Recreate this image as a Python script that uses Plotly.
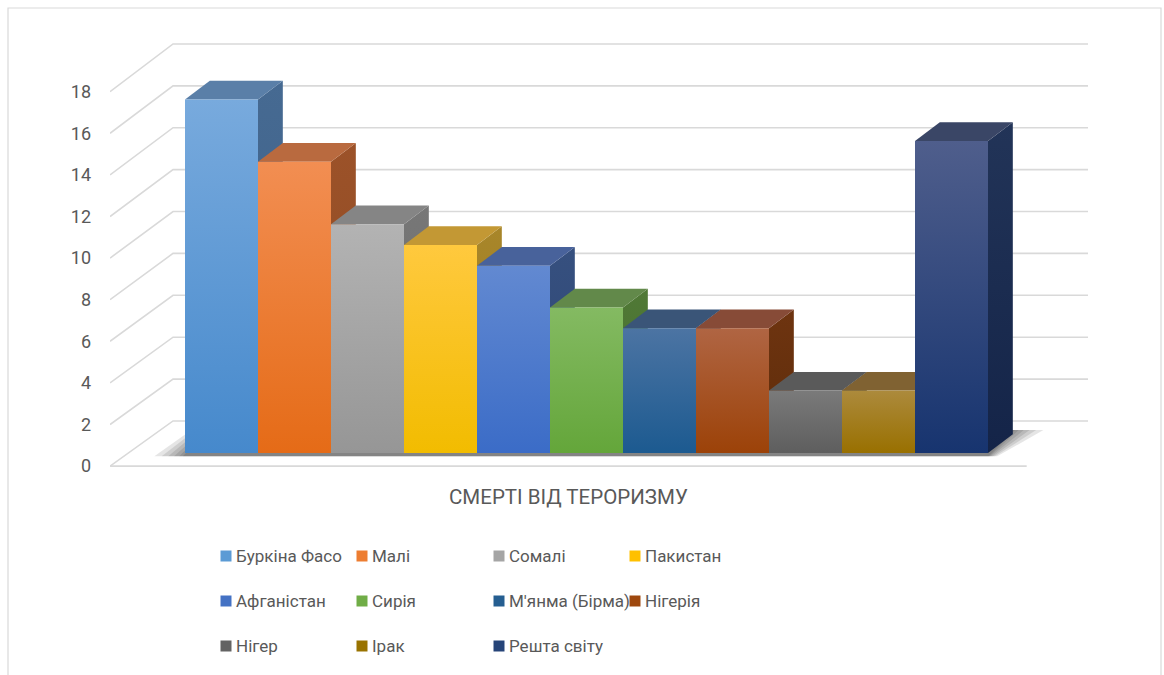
import plotly.graph_objects as go

# ---------------- data ----------------
countries = ["Буркіна Фасо", "Малі", "Сомалі", "Пакистан", "Афганістан", "Сирія",
             "М'янма (Бірма)", "Нігерія", "Нігер", "Ірак", "Решта світу"]
deaths = [17, 14, 11, 10, 9, 7, 6, 6, 3, 3, 15]
y_ticks = [0, 2, 4, 6, 8, 10, 12, 14, 16, 18]
category_label = "СМЕРТІ ВІД ТЕРОРИЗМУ"

# ---------------- styles ----------------
base_col = ["#5B9BD5", "#ED7D31", "#A5A5A5", "#FFC000", "#4472C4", "#70AD47",
            "#255E91", "#9E480E", "#636363", "#997300", "#264478"]
front_top = ["#78AADD", "#F28E52", "#B3B3B3", "#FFC93E", "#6289D1", "#84BA62",
             "#4C74A3", "#B06543", "#7A7A7A", "#AC8A3C", "#4F5E8C"]
front_bot = ["#4689CC", "#E56B17", "#969696", "#F2BC00", "#3B6CC7", "#64A63A",
             "#1C5A90", "#9C4208", "#5E5E5E", "#997000", "#17346F"]
top_col = ["#5A7FA8", "#B96A3F", "#858585", "#C39834", "#48629B", "#62894A",
           "#3A5578", "#874B37", "#5A5A5A", "#806232", "#3A4666"]
side_col = ["#466A92", "#9C5229", "#777777", "#A8862A", "#36507F", "#507936",
            "#294E74", "#6E3410", "#4A4A4A", "#6E5410", "#223458"]
side_col2 = ["#3C5E86", "#8C4A22", "#6A6A6A", "#9A7A20", "#2E4674", "#466C2E",
             "#1F4468", "#5E2C0A", "#404040", "#5E4808", "#142448"]
grid_col = "#D9D9D9"
text_col = "#595959"
FONT = "Roboto"

# geometry (bar units on x, value units on y)
W = 1.0              # bar width
DX, DY = 0.34, 0.90  # bar depth projection
WALL_X0, WALL_X1, WALL_DY, WALL_SCALE = -0.664, 11.87, 1.54, 1.007
FLOOR_X0, FLOOR_X1, FLOOR_DY = -1.527, 11.03, -0.63

fig = go.Figure()


def poly(xs, ys, **kw):
    fig.add_trace(go.Scatter(x=xs + [xs[0]], y=ys + [ys[0]], mode="lines", fill="toself",
                             line=dict(width=0), hoverinfo="skip", showlegend=False, **kw))


# gridlines: back wall + side diagonals
gx, gy = [], []
for v in y_ticks:
    yb = WALL_DY + v * WALL_SCALE
    gx += [FLOOR_X0, WALL_X0, WALL_X1, None]
    gy += [v + FLOOR_DY, yb, yb, None]
gx += [FLOOR_X0, FLOOR_X1, None]
gy += [FLOOR_DY, FLOOR_DY, None]
fig.add_trace(go.Scatter(x=gx, y=gy, mode="lines", line=dict(color=grid_col, width=1.6),
                         hoverinfo="skip", showlegend=False))

# soft shadow beneath bar block
n = len(deaths)
bx0, bx1 = -W / 2, n - 1 + W / 2
for e in [0.42, 0.32, 0.23, 0.15, 0.08, 0.03]:
    poly([bx0 - e, bx1 + e * 0.3, bx1 + DX + e, bx0 + DX - e * 0.6],
         [-0.16, -0.16, DY + 0.2, DY + 0.2], fillcolor="rgba(0,0,0,0.10)")

# bars drawn as 3-D prisms (side, top, front) left to right
for i, h in enumerate(deaths):
    x0, x1 = i - W / 2, i + W / 2
    poly([x1, x1 + DX, x1 + DX, x1], [0, DY, h + DY, h],
         fillgradient=dict(type="vertical", start=0, stop=h + DY,
                           colorscale=[[0, side_col2[i]], [1, side_col[i]]]),
         fillcolor=side_col[i])
    poly([x0, x1, x1 + DX, x0 + DX], [h, h, h + DY, h + DY], fillcolor=top_col[i])
    poly([x0, x1, x1, x0], [0, 0, h, h],
         fillgradient=dict(type="vertical", start=0, stop=h,
                           colorscale=[[0, front_bot[i]], [1, front_top[i]]]),
         fillcolor=front_bot[i])

# category label
fig.add_annotation(x=(FLOOR_X0 + FLOOR_X1) / 2, y=-2.12, text=category_label, showarrow=False,
                   font=dict(family=FONT, size=20.5, color=text_col), xanchor="center", yanchor="middle")

PL = 110
PW = 1164 - PL
H = 675


def px2paper(px):
    return (px - PL) / PW


def py2paper(py):
    return (H - py) / H


# legend (3 rows x 4 columns): swatch + label
leg_cols = [226, 362, 499, 635]
leg_rows = [556, 601, 646]
shapes = [dict(type="rect", xref="paper", yref="paper", x0=px2paper(8), x1=px2paper(1161),
               y0=-0.05, y1=py2paper(8), line=dict(color=grid_col, width=1.2),
               fillcolor="rgba(0,0,0,0)", layer="below")]
for i, name in enumerate(countries):
    cx, cy = leg_cols[i % 4], leg_rows[i // 4]
    shapes.append(dict(type="rect", xref="paper", yref="paper",
                       x0=px2paper(cx - 5.5), x1=px2paper(cx + 5.5),
                       y0=py2paper(cy + 5.5), y1=py2paper(cy - 5.5),
                       line=dict(width=0), fillcolor=base_col[i], layer="above"))
    fig.add_annotation(xref="paper", yref="paper", x=px2paper(cx + 8), y=py2paper(cy),
                       text=name, showarrow=False, xanchor="left", yanchor="middle",
                       font=dict(family=FONT, size=17, color=text_col))

fig.update_layout(
    width=1164, height=H,
    margin=dict(l=PL, r=0, t=0, b=0),
    paper_bgcolor="white", plot_bgcolor="white",
    showlegend=False,
    xaxis=dict(range=[(PL - 221.5) / 73, (1164 - 221.5) / 73], showgrid=False, zeroline=False,
               showticklabels=False, fixedrange=True),
    yaxis=dict(range=[(453 - H) / 20.8, 453 / 20.8], showgrid=False, zeroline=False,
               tickmode="array", tickvals=[v + FLOOR_DY for v in y_ticks],
               ticktext=[str(v) for v in y_ticks], ticks="", ticklabelstandoff=18,
               tickfont=dict(family=FONT, size=18, color=text_col), fixedrange=True),
    shapes=shapes,
)

fig.write_html("out.html", config={"displayModeBar": False},
               post_script="document.body.style.margin='0';")
